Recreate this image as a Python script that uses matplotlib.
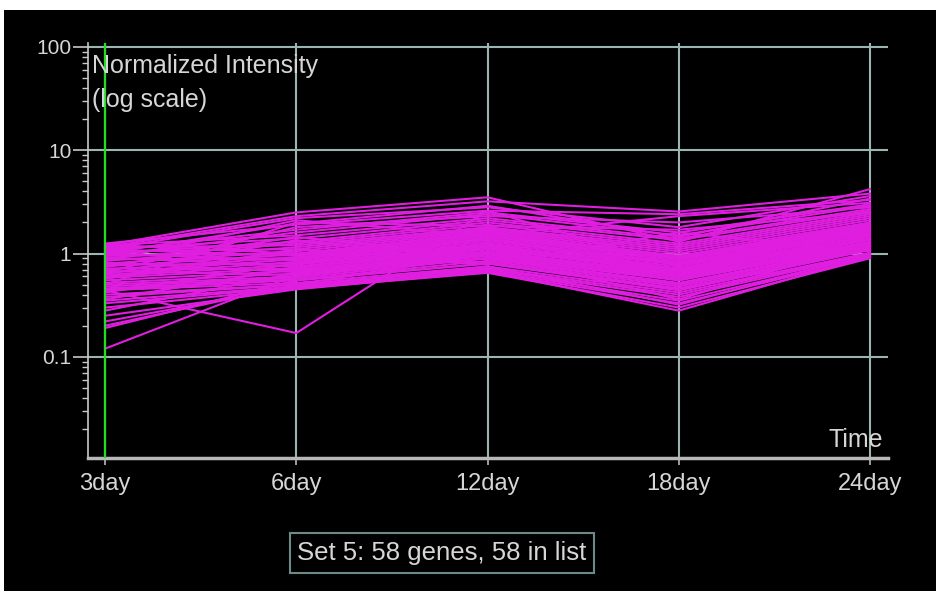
import matplotlib.pyplot as plt
from matplotlib.patches import Rectangle
from matplotlib.ticker import NullFormatter

# time points on the x axis
days = ['3day', '6day', '12day', '18day', '24day']

# normalized intensity per gene, one row per gene (3, 6, 12, 18, 24 day)
genes = [
    [1.20, 2.50, 3.50, 1.30, 4.20],
    [1.15, 2.30, 3.20, 2.55, 3.80],
    [1.10, 2.20, 2.80, 1.80, 3.60],
    [1.25, 1.90, 2.60, 2.40, 3.30],
    [1.05, 1.70, 2.50, 1.60, 3.00],
    [0.95, 1.60, 2.40, 1.50, 2.90],
    [1.20, 1.50, 2.20, 1.40, 2.70],
    [1.10, 1.40, 2.10, 1.35, 2.60],
    [1.00, 1.30, 2.00, 1.25, 2.50],
    [0.90, 1.25, 1.90, 1.20, 2.40],
    [1.15, 1.20, 1.80, 1.15, 2.30],
    [0.85, 1.15, 1.75, 1.10, 2.20],
    [1.05, 1.10, 1.70, 1.05, 2.10],
    [0.80, 1.05, 1.65, 1.00, 2.00],
    [0.95, 1.00, 1.60, 0.95, 1.95],
    [0.75, 0.98, 1.55, 0.92, 1.90],
    [1.10, 0.95, 1.50, 0.90, 1.85],
    [0.70, 0.92, 1.45, 0.88, 1.80],
    [0.88, 0.90, 1.40, 0.85, 1.75],
    [0.65, 0.88, 1.35, 0.82, 1.70],
    [1.00, 0.85, 1.30, 0.80, 1.65],
    [0.62, 0.83, 1.25, 0.78, 1.60],
    [0.78, 0.80, 1.20, 0.75, 1.55],
    [0.60, 0.78, 1.18, 0.72, 1.50],
    [0.92, 0.75, 1.15, 0.70, 1.45],
    [0.58, 0.73, 1.12, 0.68, 1.40],
    [0.72, 0.70, 1.10, 0.66, 1.38],
    [0.55, 0.68, 1.05, 0.64, 1.35],
    [0.82, 0.66, 1.02, 0.62, 1.30],
    [0.52, 0.64, 1.00, 0.60, 1.28],
    [0.68, 0.62, 0.98, 0.58, 1.25],
    [0.50, 0.60, 0.95, 0.56, 1.22],
    [0.75, 1.45, 0.92, 0.55, 1.20],
    [0.48, 0.58, 0.90, 0.52, 1.18],
    [0.63, 1.35, 0.88, 0.50, 1.15],
    [0.46, 0.56, 0.85, 0.48, 1.12],
    [0.57, 1.10, 0.82, 0.46, 1.10],
    [0.45, 0.55, 0.80, 0.44, 1.08],
    [1.22, 1.00, 0.78, 1.60, 1.05],
    [0.44, 0.52, 0.75, 0.42, 1.02],
    [0.40, 0.50, 0.72, 0.40, 1.00],
    [0.38, 0.50, 0.70, 0.38, 0.98],
    [0.35, 0.48, 0.68, 0.35, 0.95],
    [0.33, 0.47, 0.66, 0.33, 0.92],
    [0.30, 0.46, 0.65, 0.30, 0.90],
    [0.25, 0.45, 0.67, 0.28, 0.95],
    [0.22, 0.48, 0.75, 0.32, 1.00],
    [0.44, 0.17, 2.60, 0.75, 1.60],
    [0.19, 0.55, 0.80, 0.45, 1.10],
    [0.12, 0.62, 0.90, 0.50, 1.20],
    [0.20, 0.50, 1.00, 0.36, 1.30],
    [0.28, 0.65, 1.10, 0.55, 1.40],
    [0.36, 0.72, 1.25, 0.62, 1.50],
    [0.42, 0.80, 1.40, 0.70, 1.70],
    [0.50, 2.00, 1.85, 1.70, 2.50],
    [0.66, 1.80, 2.30, 2.00, 2.80],
    [0.85, 2.10, 1.50, 2.30, 3.10],
    [1.00, 1.95, 2.90, 1.45, 3.40],
]

y_ticks = [0.1, 1, 10, 100]
y_labels = ['0.1', '1', '10', '100']
set_label = 'Set 5: 58 genes, 58 in list'

plt.rcParams['font.family'] = ['Liberation Sans', 'DejaVu Sans']
text_col = '#d6d6d6'
grid_col = '#9db4b2'

fig = plt.figure(figsize=(9.36, 5.95), dpi=100, facecolor='white')
# black panel behind everything
fig.patches.append(Rectangle((4 / 936, 4 / 595), 932 / 936, 581 / 595,
                             transform=fig.transFigure, facecolor='black',
                             edgecolor='none', zorder=-1))

ax = fig.add_axes([88 / 936, 1 - 458 / 595, 800 / 936, 415 / 595])
ax.set_facecolor('black')

x = list(range(len(days)))
for g in genes:
    ax.plot(x, g, color='#e01ee0', lw=1.5, zorder=3)

# marker for the selected time point
ax.axvline(0, color='#22dd22', lw=1.6, zorder=4)

ax.set_yscale('log')
ax.set_ylim(0.0105, 109)
ax.set_xlim(-0.089, 4.094)
ax.set_xticks(x, days)
ax.set_yticks(y_ticks, y_labels)
ax.yaxis.set_minor_formatter(NullFormatter())

ax.grid(True, which='major', color=grid_col, lw=1.5, zorder=1)
ax.set_axisbelow(True)

for s in ['top', 'right']:
    ax.spines[s].set_visible(False)
ax.spines['left'].set_color('#c8c8c8')
ax.spines['left'].set_linewidth(1.2)
ax.spines['bottom'].set_color('#b8b8b8')
ax.spines['bottom'].set_linewidth(2.5)

ax.tick_params(axis='y', which='major', length=11, width=1.2, color='#c8c8c8',
               labelcolor=text_col, labelsize=15, pad=1)
ax.tick_params(axis='y', which='minor', length=4, width=1.0, color='#c8c8c8')
ax.tick_params(axis='x', length=5, width=1.2, color='#b8b8b8',
               labelcolor=text_col, labelsize=17, pad=6)

fig.text(92 / 936, 1 - 54 / 595, 'Normalized Intensity\n(log scale)',
         ha='left', va='top', fontsize=18, color=text_col, linespacing=1.5)
fig.text(883 / 936, 1 - 440 / 595, 'Time', ha='right', va='center',
         fontsize=18, color=text_col)
fig.text(442 / 936, 1 - 553 / 595, set_label, ha='center', va='center',
         fontsize=18.5, color=text_col,
         bbox=dict(boxstyle='square,pad=0.3', facecolor='black',
                   edgecolor='#6b8a88', lw=1.5))

fig.savefig('out.png', dpi=100, facecolor=fig.get_facecolor())
